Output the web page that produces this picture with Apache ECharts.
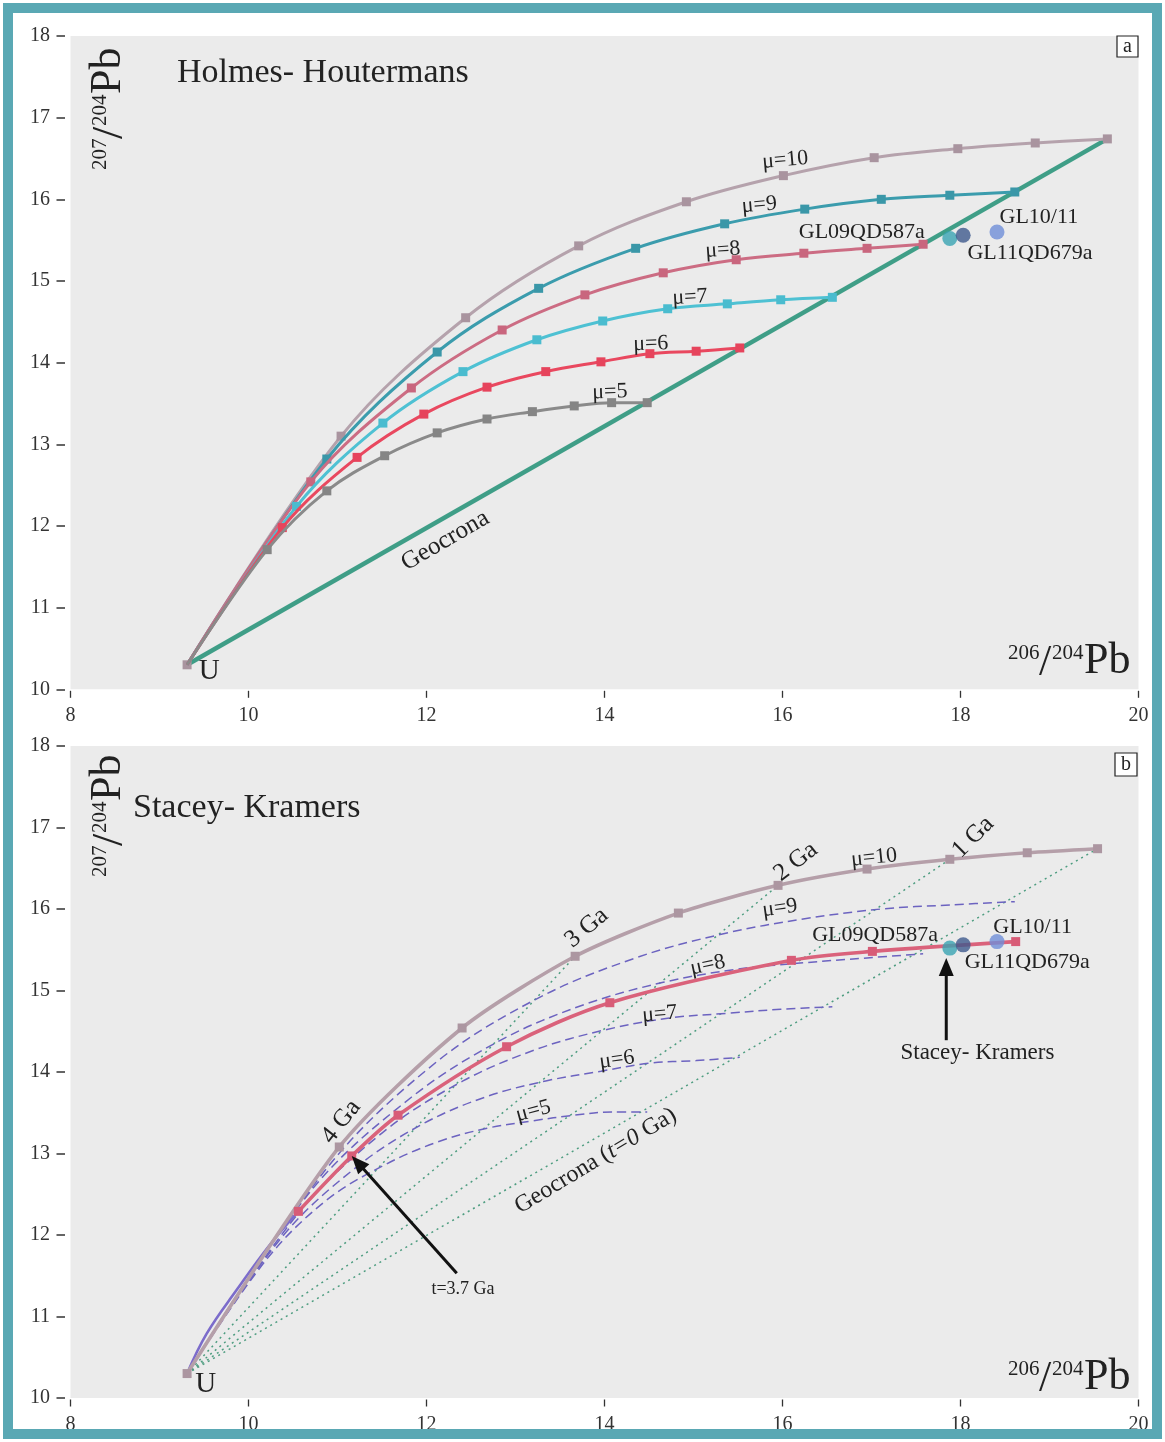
<!DOCTYPE html>
<html>
<head>
<meta charset="utf-8">
<title>Pb isotope growth curves</title>
<script src="https://cdn.jsdelivr.net/npm/echarts@6/dist/echarts.min.js"></script>
<style>
  html, body { margin: 0; padding: 0; background: #ffffff; }
  #chart { width: 1165px; height: 1442px; }
</style>
</head>
<body>
<div id="chart"></div>
<script>
// ---- data: 206Pb/204Pb, 207Pb/204Pb ----
// primordial lead (Canyon Diablo troilite), point "U"
const primordial = [9.31, 10.30];

// Holmes–Houtermans single-stage curves; markers every 0.5 Ga, 4.0 Ga -> 0 Ga
const muCurve10 = [[11.04, 13.10], [12.44, 14.55], [13.71, 15.43], [14.92, 15.97], [16.01, 16.29], [17.03, 16.51], [17.97, 16.62], [18.84, 16.69], [19.65, 16.74]];
const muCurve9  = [[10.88, 12.82], [12.12, 14.13], [13.26, 14.91], [14.35, 15.40], [15.35, 15.70], [16.25, 15.88], [17.11, 16.00], [17.88, 16.05], [18.61, 16.09]];
const muCurve8  = [[10.70, 12.54], [11.83, 13.69], [12.85, 14.40], [13.78, 14.83], [14.66, 15.10], [15.48, 15.26], [16.24, 15.34], [16.95, 15.40], [17.58, 15.45]];
const muCurve7  = [[10.54, 12.24], [11.51, 13.26], [12.41, 13.89], [13.24, 14.28], [13.98, 14.51], [14.71, 14.66], [15.38, 14.72], [15.98, 14.77], [16.56, 14.80]];
const muCurve6  = [[10.38, 11.98], [11.22, 12.84], [11.97, 13.37], [12.68, 13.70], [13.34, 13.89], [13.96, 14.01], [14.51, 14.11], [15.03, 14.14], [15.52, 14.18]];
const muCurve5  = [[10.21, 11.71], [10.88, 12.43], [11.53, 12.86], [12.12, 13.14], [12.68, 13.31], [13.19, 13.40], [13.66, 13.47], [14.08, 13.51], [14.48, 13.51]];

// Stacey–Kramers panel: mu = 10 reference curve with ages of its markers
const skMu10Ages = [4.0, 3.5, 3.0, 2.5, 2.0, 1.5, 1.0, 0.5, 0.0];
const skMu10 = [[11.02, 13.08], [12.40, 14.54], [13.67, 15.42], [14.83, 15.95], [15.95, 16.29], [16.95, 16.49], [17.88, 16.61], [18.75, 16.69], [19.54, 16.74]];
// isochrons drawn from U to the mu = 10 curve (t = 0 is the geochron)
const isochronAges = [3, 2, 1, 0];

// Stacey–Kramers two-stage model: first stage (4.57 -> 3.7 Ga) and second stage (3.7 Ga -> today)
const skFirstStage = [[9.53, 10.79], [9.87, 11.33], [10.24, 11.88], [10.56, 12.29]];
const skSecondStage = [[10.56, 12.29], [11.16, 12.97], [11.68, 13.47], [12.90, 14.31], [14.06, 14.85], [16.10, 15.37], [17.01, 15.48], [18.62, 15.60]];
const skStartAge = [11.16, 12.97];

// measured galena samples
const sampleNames = ['GL09QD587a', 'GL11QD679a', 'GL10/11'];
const sampleValues = [[17.88, 15.52], [18.03, 15.56], [18.41, 15.60]];

// axis ticks
const xTicks = { min: 8, max: 20, step: 2 };
const yTicks = { min: 10, max: 18, step: 1 };

// ---- chart ----
const FONT = '"Liberation Serif", "Times New Roman", serif';
const INK = '#222222';
const chart = echarts.init(document.getElementById('chart'), null, { renderer: 'canvas' });

const sampleColors = ['#3AA4B3', '#3F5A8D', '#6F8ED8'];
const muStyles = {
  10: { line: '#B5A2AC', mark: '#A9949F' },
  9: { line: '#3B9CAD', mark: '#3A97A8' },
  8: { line: '#CC6C83', mark: '#C9667E' },
  7: { line: '#4EC1D3', mark: '#4ABCCF' },
  6: { line: '#E9485F', mark: '#E6445C' },
  5: { line: '#8A8A8A', mark: '#858585' }
};
const muCurves = { 10: muCurve10, 9: muCurve9, 8: muCurve8, 7: muCurve7, 6: muCurve6, 5: muCurve5 };

function makeGrid(top, height) {
  return {
    left: 70.5, top: top, width: 1068, height: height,
    show: true, backgroundColor: '#EBEBEB', borderWidth: 0,
    containLabel: false, outerBoundsMode: 'none'
  };
}
function makeX(gi) {
  return {
    type: 'value', gridIndex: gi, min: xTicks.min, max: xTicks.max, interval: xTicks.step,
    offset: 1.5,
    axisLine: { show: false },
    axisTick: { show: true, length: 7, lineStyle: { color: '#333', width: 1.3 } },
    axisLabel: { margin: 15, color: '#333', fontFamily: FONT, fontSize: 20 },
    splitLine: { show: false }
  };
}
function makeY(gi) {
  return {
    type: 'value', gridIndex: gi, min: yTicks.min, max: yTicks.max, interval: yTicks.step,
    offset: 5.5,
    axisLine: { show: false },
    axisTick: { show: true, length: 8.5, lineStyle: { color: '#333', width: 1.5 } },
    axisLabel: { margin: 15, color: '#333', fontFamily: FONT, fontSize: 20 },
    splitLine: { show: false }
  };
}

const series = [];

// ---------- panel a: Holmes–Houtermans ----------
series.push({
  type: 'line', name: 'Geocrona', xAxisIndex: 0, yAxisIndex: 0,
  data: [primordial, muCurve10[muCurve10.length - 1]],
  symbol: 'none', lineStyle: { color: '#3F9E87', width: 4.5 }, z: 2, silent: true
});
[10, 9, 8, 7, 6, 5].forEach(function (mu, k) {
  series.push({
    type: 'line', name: 'μ=' + mu, xAxisIndex: 0, yAxisIndex: 0,
    smooth: 0.35, showAllSymbol: true,
    data: [{ value: primordial, symbol: mu === 10 ? 'rect' : 'none' }].concat(muCurves[mu]),
    symbol: 'rect', symbolSize: 9,
    lineStyle: { color: muStyles[mu].line, width: 3 },
    itemStyle: { color: muStyles[mu].mark },
    z: 3 + k, silent: true
  });
});
series.push({
  type: 'scatter', name: 'samples a', xAxisIndex: 0, yAxisIndex: 0,
  data: sampleValues.map(function (v, i) { return { value: v, name: sampleNames[i], itemStyle: { color: sampleColors[i] } }; }),
  symbolSize: 15, z: 20, silent: true
});

// ---------- panel b: Stacey–Kramers ----------
isochronAges.forEach(function (age) {
  const end = skMu10[skMu10Ages.indexOf(age)];
  series.push({
    type: 'line', name: 'isochron ' + age, xAxisIndex: 1, yAxisIndex: 1,
    data: [primordial, end], symbol: 'none',
    lineStyle: { color: '#4E9D80', width: 1.5, type: [2, 4] }, z: 2, silent: true
  });
});
[9, 8, 7, 6, 5].forEach(function (mu) {
  series.push({
    type: 'line', name: 'μ=' + mu + ' b', xAxisIndex: 1, yAxisIndex: 1,
    smooth: 0.35, data: [primordial].concat(muCurves[mu]), symbol: 'none',
    lineStyle: { color: '#6C63C0', width: 1.5, type: [9, 5] }, z: 3, silent: true
  });
});
series.push({
  type: 'line', name: 'first stage', xAxisIndex: 1, yAxisIndex: 1,
  smooth: 0.4, data: [primordial].concat(skFirstStage), symbol: 'none',
  lineStyle: { color: '#7C6CCB', width: 2.6 }, z: 4, silent: true
});
series.push({
  type: 'line', name: 'μ=10 b', xAxisIndex: 1, yAxisIndex: 1,
  smooth: 0.25, showAllSymbol: true,
  data: [primordial].concat(skMu10), symbol: 'rect', symbolSize: 9,
  lineStyle: { color: '#B59FA9', width: 3.6 }, itemStyle: { color: '#AC96A1' }, z: 5, silent: true
});
series.push({
  type: 'line', name: 'Stacey-Kramers', xAxisIndex: 1, yAxisIndex: 1,
  smooth: 0.3, showAllSymbol: true,
  data: skSecondStage, symbol: 'rect', symbolSize: 9,
  lineStyle: { color: '#DA627B', width: 3.6 }, itemStyle: { color: '#D85C77' }, z: 6, silent: true
});
series.push({
  type: 'scatter', name: 'samples b', xAxisIndex: 1, yAxisIndex: 1,
  data: sampleValues.map(function (v, i) { return { value: v, name: sampleNames[i], itemStyle: { color: sampleColors[i] } }; }),
  symbolSize: 15, z: 20, silent: true
});

chart.setOption({
  animation: false,
  backgroundColor: '#ffffff',
  grid: [makeGrid(36, 653.3), makeGrid(746, 652)],
  xAxis: [makeX(0), makeX(1)],
  yAxis: [makeY(0), makeY(1)],
  series: series
});

// ---------- annotations ----------
function px(gi, p) { return chart.convertToPixel({ gridIndex: gi }, p); }
function label(gi, p, text, size, rot, extra) {
  const q = px(gi, p);
  return {
    type: 'text', x: q[0], y: q[1], rotation: (rot || 0) * Math.PI / 180, z: 60,
    style: Object.assign({ text: text, font: size + 'px ' + FONT, fill: INK, align: 'center', verticalAlign: 'middle' }, extra || {})
  };
}
function arrow(gi, from, to) {
  const a = px(gi, from), b = px(gi, to);
  const dx = b[0] - a[0], dy = b[1] - a[1], len = Math.sqrt(dx * dx + dy * dy);
  const ux = dx / len, uy = dy / len, head = 18, half = 7.5;
  const bx = b[0] - ux * head, by = b[1] - uy * head;
  return [
    { type: 'line', z: 60, shape: { x1: a[0], y1: a[1], x2: bx + ux * 2, y2: by + uy * 2 }, style: { stroke: '#111', lineWidth: 3 } },
    { type: 'polygon', z: 60, shape: { points: [[b[0], b[1]], [bx - uy * half, by + ux * half], [bx + uy * half, by - ux * half]] }, style: { fill: '#111' } }
  ];
}
// isotope-ratio axis title: superscript mass numbers, slash, large "Pb"
function ratioTitle(x, y, top, bottom, rot) {
  function t(text, dx, dy, size) {
    return { type: 'text', x: dx, y: dy, style: { text: text, font: size + 'px ' + FONT, fill: INK, align: 'left', verticalAlign: 'bottom' } };
  }
  return {
    type: 'group', x: x, y: y, rotation: rot, z: 60,
    children: [t(top, 0, -19, 21), t('/', 31, 2, 44), t(bottom, 44, -19, 21), t('Pb', 76, 0, 44)]
  };
}
function letterBox(x, y, w, h, ch) {
  return [
    { type: 'rect', z: 60, shape: { x: x, y: y, width: w, height: h }, style: { fill: '#ffffff', stroke: '#222', lineWidth: 1.2 } },
    { type: 'text', z: 61, x: x + w / 2, y: y + h / 2, style: { text: ch, font: '20px ' + FONT, fill: INK, align: 'center', verticalAlign: 'middle' } }
  ];
}

let g = [];
// outer frame
g.push({ type: 'rect', z: 100, shape: { x: 8, y: 8, width: 1149, height: 1426 }, style: { fill: 'none', stroke: '#5AA8B4', lineWidth: 10 } });

// panel a texts
g.push({ type: 'text', z: 60, x: 177, y: 73, style: { text: 'Holmes- Houtermans', font: '34px ' + FONT, fill: INK, align: 'left', verticalAlign: 'middle' } });
g = g.concat(letterBox(1117, 36, 21, 21, 'a'));
g.push(ratioTitle(130, 170, '207', '204', Math.PI / 2));
g.push(ratioTitle(1008, 683, '206', '204', 0));
g.push(label(0, [16.03, 16.48], 'μ=10', 22, 5));
g.push(label(0, [15.74, 15.93], 'μ=9', 22, 5));
g.push(label(0, [15.33, 15.38], 'μ=8', 22, 4));
g.push(label(0, [14.96, 14.80], 'μ=7', 22, 3));
g.push(label(0, [14.52, 14.23], 'μ=6', 22, 2));
g.push(label(0, [14.06, 13.64], 'μ=5', 22, 2));
g.push(label(0, [16.89, 15.60], sampleNames[0], 22, 0));
g.push(label(0, [18.88, 15.78], sampleNames[2], 22, 0));
g.push(label(0, [18.78, 15.34], sampleNames[1], 22, 0));
g.push(label(0, [12.21, 11.82], 'Geocrona', 25, 30));
g.push(label(0, [9.56, 10.22], 'U', 29, 0));

// panel b texts
g.push({ type: 'text', z: 60, x: 133, y: 808, style: { text: 'Stacey- Kramers', font: '34px ' + FONT, fill: INK, align: 'left', verticalAlign: 'middle' } });
g = g.concat(letterBox(1115, 753, 22, 23, 'b'));
g.push(ratioTitle(130, 877, '207', '204', Math.PI / 2));
g.push(ratioTitle(1008, 1399, '206', '204', 0));
g.push(label(1, [17.03, 16.63], 'μ=10', 22, 6));
g.push(label(1, [15.97, 16.01], 'μ=9', 22, 8));
g.push(label(1, [15.16, 15.31], 'μ=8', 22, 12));
g.push(label(1, [14.62, 14.71], 'μ=7', 22, 5));
g.push(label(1, [14.14, 14.15], 'μ=6', 22, 8));
g.push(label(1, [13.20, 13.52], 'μ=5', 22, 15));
g.push(label(1, [18.14, 16.88], '1 Ga', 25, 45));
g.push(label(1, [16.15, 16.58], '2 Ga', 25, 38));
g.push(label(1, [13.80, 15.77], '3 Ga', 25, 40));
g.push(label(1, [11.04, 13.39], '4 Ga', 25, 52));
g.push(label(1, [17.04, 15.68], sampleNames[0], 22, 0));
g.push(label(1, [18.81, 15.78], sampleNames[2], 22, 0));
g.push(label(1, [18.75, 15.35], sampleNames[1], 22, 0));
g.push(label(1, [13.90, 12.91], '', 24, 31, {
  text: '{n|Geocrona (}{i|t=0}{n| Ga)}',
  rich: { n: { fontSize: 24, fontFamily: FONT, fill: INK }, i: { fontSize: 24, fontFamily: FONT, fontStyle: 'italic', fill: INK } }
}));
g.push(label(1, [18.19, 14.23], 'Stacey- Kramers', 23, 0));
g.push(label(1, [12.41, 11.34], 't=3.7 Ga', 18, 0));
g.push(label(1, [9.52, 10.17], 'U', 29, 0));
g = g.concat(arrow(1, [12.34, 11.53], skStartAge));
g = g.concat(arrow(1, [17.84, 14.39], [17.84, 15.40]));

chart.setOption({ graphic: g });
</script>
</body>
</html>
